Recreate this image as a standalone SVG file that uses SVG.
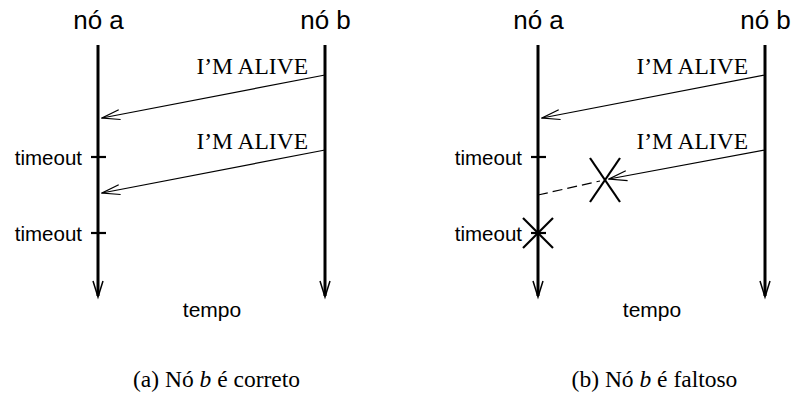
<svg xmlns="http://www.w3.org/2000/svg" width="792" height="394" viewBox="0 0 792 394">
<style>
.life{stroke:#000;stroke-width:3;fill:none}
.msg{stroke:#000;stroke-width:1.2;fill:none}
.tick{stroke:#000;stroke-width:2.2}
.x{stroke:#000;stroke-width:2.2}
.sans{font-family:"Liberation Sans",Arial,sans-serif;fill:#000}
.serif{font-family:"Liberation Serif","Times New Roman",serif;fill:#000}
.node{font-size:26px}
.to{font-size:20.5px}
.tp{font-size:21px}
.lab{font-size:23.5px}
.cap{font-size:23.5px}
</style>
<defs>
<marker id="open" viewBox="0 0 20 12" refX="19" refY="6" markerWidth="20" markerHeight="12" markerUnits="userSpaceOnUse" orient="auto">
<path d="M1,1 L19,6 L1,11" fill="none" stroke="#000" stroke-width="1.2"/>
</marker>
</defs>

<!-- Panel (a) -->
<g id="a-node-a">
<text class="sans node" x="98.5" y="29" text-anchor="middle">nó a</text>
<line class="life" x1="98" y1="45" x2="98" y2="296"/>
<path d="M93,281 L98,297 L103,281" fill="none" stroke="#000" stroke-width="1.5"/>
</g>
<g id="a-node-b">
<text class="sans node" x="325.5" y="29" text-anchor="middle">nó b</text>
<line class="life" x1="325" y1="45" x2="325" y2="296"/>
<path d="M320,281 L325,297 L330,281" fill="none" stroke="#000" stroke-width="1.5"/>
</g>
<g id="a-timeouts">
<line class="tick" x1="91" y1="157" x2="106" y2="157"/>
<text class="sans to" x="82" y="165" text-anchor="end">timeout</text>
<line class="tick" x1="91" y1="233" x2="106" y2="233"/>
<text class="sans to" x="82" y="241" text-anchor="end">timeout</text>
</g>
<g id="a-connectors">
<line class="msg" x1="325" y1="75" x2="102" y2="118" marker-end="url(#open)"/>
<text class="serif lab" x="308" y="74" text-anchor="end">I’M ALIVE</text>
<line class="msg" x1="325" y1="150" x2="102" y2="193" marker-end="url(#open)"/>
<text class="serif lab" x="308" y="149" text-anchor="end">I’M ALIVE</text>
</g>
<text class="sans tp" x="212" y="317" text-anchor="middle">tempo</text>
<text class="serif cap" x="216.5" y="387" text-anchor="middle">(a) Nó <tspan font-style="italic">b</tspan> é correto</text>

<!-- Panel (b) -->
<g id="b-node-a">
<text class="sans node" x="538.5" y="29" text-anchor="middle">nó a</text>
<line class="life" x1="538" y1="45" x2="538" y2="296"/>
<path d="M533,281 L538,297 L543,281" fill="none" stroke="#000" stroke-width="1.5"/>
</g>
<g id="b-node-b">
<text class="sans node" x="765.5" y="29" text-anchor="middle">nó b</text>
<line class="life" x1="765" y1="45" x2="765" y2="296"/>
<path d="M760,281 L765,297 L770,281" fill="none" stroke="#000" stroke-width="1.5"/>
</g>
<g id="b-timeouts">
<line class="tick" x1="531" y1="157" x2="546" y2="157"/>
<text class="sans to" x="522" y="165" text-anchor="end">timeout</text>
<line class="tick" x1="531" y1="233" x2="546" y2="233"/>
<text class="sans to" x="522" y="241" text-anchor="end">timeout</text>
<line class="x" x1="523" y1="218" x2="553" y2="248"/>
<line class="x" x1="553" y1="218" x2="523" y2="248"/>
</g>
<g id="b-connectors">
<line class="msg" x1="765" y1="75" x2="542" y2="118" marker-end="url(#open)"/>
<text class="serif lab" x="748" y="74" text-anchor="end">I’M ALIVE</text>
<line class="msg" x1="765" y1="150" x2="609" y2="179" marker-end="url(#open)"/>
<text class="serif lab" x="748" y="149" text-anchor="end">I’M ALIVE</text>
<line class="msg" x1="538" y1="195" x2="600" y2="181" stroke-dasharray="10,5"/>
<line class="x" x1="590" y1="158" x2="620" y2="202"/>
<line class="x" x1="620" y1="158" x2="590" y2="202"/>
</g>
<text class="sans tp" x="652" y="317" text-anchor="middle">tempo</text>
<text class="serif cap" x="654.5" y="387" text-anchor="middle">(b) Nó <tspan font-style="italic">b</tspan> é faltoso</text>
</svg>
